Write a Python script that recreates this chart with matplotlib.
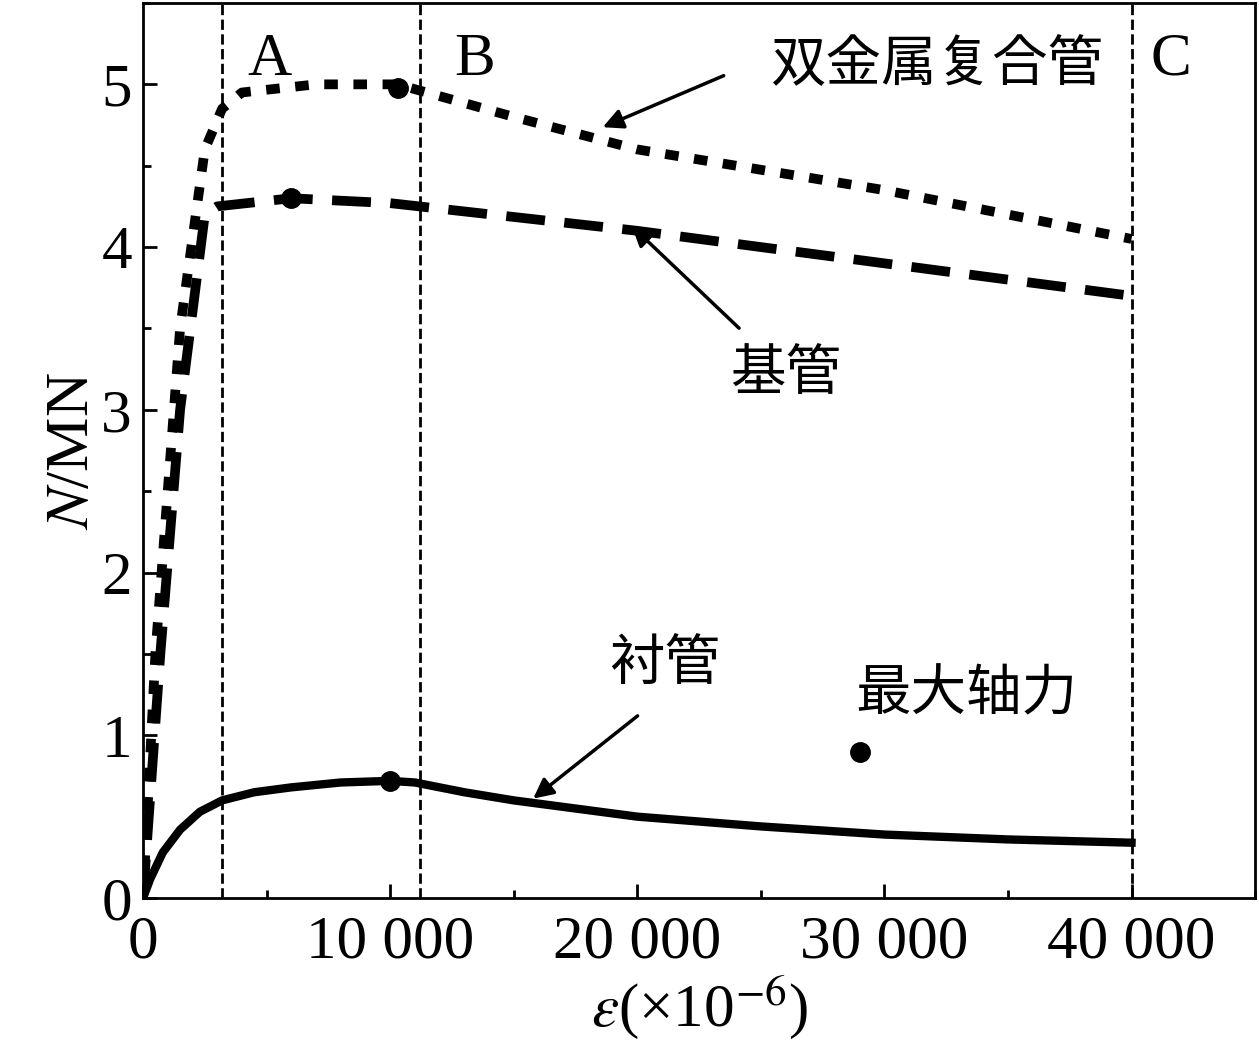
import numpy as np
import matplotlib.pyplot as plt
from matplotlib.ticker import MultipleLocator

plt.rcParams['mathtext.fontset'] = 'stix'

# composite pipe (dotted)
comp_x = [0, 500, 1500, 2500, 3200, 4000, 7000, 10300, 15000, 20000, 30000, 40000]
comp_y = [0, 1.5, 3.5, 4.6, 4.85, 4.95, 5.0, 5.0, 4.8, 4.6, 4.35, 4.05]
# base pipe (dashed)
base_x = [0, 700, 1500, 2500, 3000, 6000, 10000, 20000, 30000, 40000]
base_y = [0, 1.5, 3.0, 4.2, 4.25, 4.3, 4.27, 4.1, 3.9, 3.7]
# liner pipe (solid)
liner_x = [0, 300, 800, 1500, 2300, 3200, 4500, 6000, 8000, 10000, 11000, 13000, 15000, 20000, 25000, 30000, 35000, 40000]
liner_y = [0, 0.12, 0.28, 0.42, 0.53, 0.6, 0.65, 0.68, 0.71, 0.72, 0.71, 0.65, 0.6, 0.5, 0.44, 0.39, 0.36, 0.34]
peak_x = [10300, 6000, 10000]
peak_y = [4.98, 4.3, 0.72]
xticks = [0, 10000, 20000, 30000, 40000]
xtick_labels = ['0', '10 000', '20 000', '30 000', '40 000']

serif = 'Liberation Serif'
cjk = ['Noto Sans CJK SC', 'Noto Sans CJK JP', 'Noto Sans CJK TC']
fs = 44
cfs = 40

fig = plt.figure(figsize=(12.59, 10.63), dpi=100)
ax = fig.add_axes([0.1136, 0.1552, 0.8833, 0.842])
ax.plot(comp_x, comp_y, color='black', lw=7, ls=(0, (1.4, 1.6)))
ax.plot(base_x, base_y, color='black', lw=7, ls=(0, (4, 2)))
ax.plot(liner_x, liner_y, color='black', lw=6)
ax.plot(peak_x, peak_y, 'o', color='black', ms=14)
ax.plot([29000], [0.9], 'o', color='black', ms=14)
for xv in [3200, 11200, 40000]:
    ax.axvline(xv, color='black', ls='--', lw=2)

ax.text(5100, 5.15, 'A', fontsize=fs, family=serif, ha='center', va='center')
ax.text(13400, 5.15, 'B', fontsize=fs, family=serif, ha='center', va='center')
ax.text(41600, 5.15, 'C', fontsize=fs, family=serif, ha='center', va='center')

ax.text(32100, 5.12, '双金属复合管', fontsize=cfs, family=cjk, ha='center', va='center')
ax.text(26000, 3.22, '基管', fontsize=cfs, family=cjk, ha='center', va='center')
ax.text(21100, 1.43, '衬管', fontsize=cfs, family=cjk, ha='center', va='center')
ax.text(33300, 1.25, '最大轴力', fontsize=cfs, family=cjk, ha='center', va='center')
arr = dict(arrowstyle='-|>', color='black', lw=2.5, mutation_scale=30)
ax.annotate('', xy=(18500, 4.73), xytext=(23600, 5.06), arrowprops=arr)
ax.annotate('', xy=(19700, 4.14), xytext=(24200, 3.49), arrowprops=arr)
ax.annotate('', xy=(15700, 0.6), xytext=(20100, 1.13), arrowprops=arr)

ax.set_xlim(0, 45000)
ax.set_ylim(0, 5.5)
ax.set_xticks(xticks)
ax.set_xticklabels(xtick_labels)
ax.set_yticks([0, 1, 2, 3, 4, 5])
ax.xaxis.set_minor_locator(MultipleLocator(5000))
ax.yaxis.set_minor_locator(MultipleLocator(0.5))
ax.tick_params(which='both', direction='in', width=2, labelsize=fs, top=False, right=False)
ax.tick_params(which='major', length=10)
ax.tick_params(which='minor', length=6)
ax.tick_params(axis='x', pad=12)
ax.tick_params(axis='y', pad=8)
for lab in ax.get_xticklabels() + ax.get_yticklabels():
    lab.set_family(serif)
for s in ax.spines.values():
    s.set_linewidth(2)
ax.set_xlabel(r'$\varepsilon$' + '(×10$^{-6}$)', fontsize=fs, family=serif, labelpad=2)
ax.set_ylabel('$N$/MN', fontsize=fs, family=serif, labelpad=0)
fig.savefig('out.png', dpi=100)
